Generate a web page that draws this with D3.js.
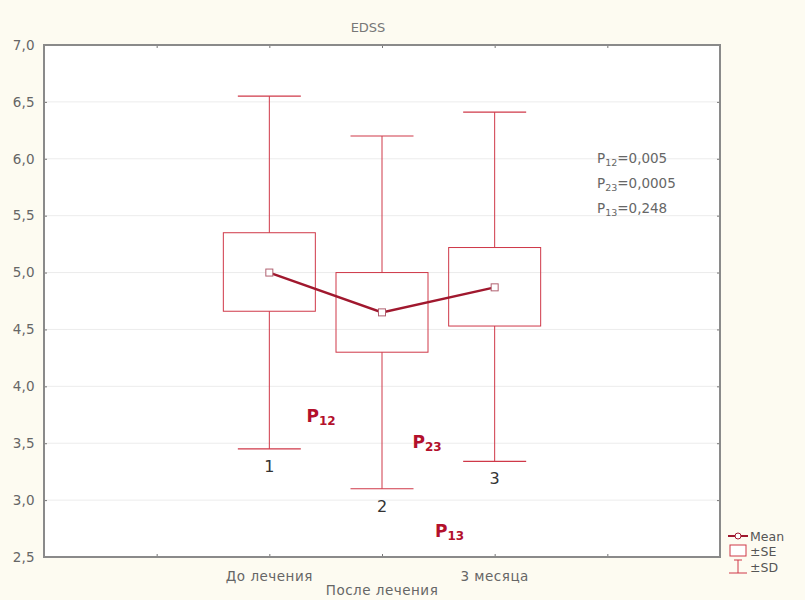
<!DOCTYPE html>
<html><head><meta charset="utf-8">
<script src="https://cdn.jsdelivr.net/npm/d3@7"></script>
<style>body{margin:0;background:#fdfbf1}svg{display:block}text{font-family:"DejaVu Sans","Liberation Sans",Arial,sans-serif}</style>
</head><body>
<script>
// ---- data ----
const title = "EDSS";
const groups = ["1", "2", "3"];
const xLabels = ["До лечения", "После лечения", "3 месяца"];
const means = [5.00, 4.65, 4.87];
const seLow = [4.66, 4.30, 4.53];
const seHigh = [5.35, 5.00, 5.22];
const sdLow = [3.45, 3.10, 3.34];
const sdHigh = [6.55, 6.20, 6.41];
const yTicks = [2.5, 3.0, 3.5, 4.0, 4.5, 5.0, 5.5, 6.0, 6.5, 7.0];
const pNames = ["12", "23", "13"];
const pValues = ["0,005", "0,0005", "0,248"];
const legendLabels = ["Mean", "±SE", "±SD"];

// ---- layout ----
const W = 805, H = 600;
const L = 44, R = 720, T = 45, B = 557;
const svg = d3.select("body").append("svg").attr("width", W).attr("height", H);
svg.append("rect").attr("width", W).attr("height", H).attr("fill", "#fdfbf1");
svg.append("rect").attr("x", L).attr("y", T).attr("width", R - L).attr("height", B - T).attr("fill", "#ffffff");

const x = d3.scaleLinear().domain([0, 6]).range([L, R]);
const xPos = i => x(i + 2);
const y = d3.scaleLinear().domain([2.5, 7.0]).range([B, T]);
const fmt = v => d3.format(".1f")(v).replace(".", ",");

// grid
svg.append("g").selectAll("line").data(yTicks.slice(1, -1)).join("line")
  .attr("x1", L).attr("x2", R).attr("y1", d => y(d)).attr("y2", d => y(d))
  .attr("stroke", "#ececec").attr("stroke-width", 1);

// axes
const gy = svg.append("g").attr("transform", `translate(${L},0)`)
  .call(d3.axisLeft(y).tickValues(yTicks).tickFormat(fmt).tickSize(-3).tickPadding(9));
const gyr = svg.append("g").attr("transform", `translate(${R},0)`)
  .call(d3.axisRight(y).tickValues(yTicks).tickFormat("").tickSize(-3));
const xt = [1, 2, 3, 4, 5];
const gx = svg.append("g").attr("transform", `translate(0,${B})`)
  .call(d3.axisBottom(x).tickValues(xt).tickFormat("").tickSize(-3));
const gxt = svg.append("g").attr("transform", `translate(0,${T})`)
  .call(d3.axisTop(x).tickValues(xt).tickFormat("").tickSize(-3));
[gy, gyr, gx, gxt].forEach(g => {
  g.select(".domain").remove();
  g.selectAll(".tick line").attr("stroke", "#777");
});
gy.selectAll("text").attr("fill", "#666").attr("font-size", 13.5).attr("font-family", "DejaVu Sans")
  .attr("letter-spacing", "0.3");
svg.append("rect").attr("x", L).attr("y", T).attr("width", R - L).attr("height", B - T)
  .attr("fill", "none").attr("stroke", "#8a8a8a").attr("stroke-width", 2);

// x labels
svg.append("g").selectAll("text").data(xLabels).join("text")
  .attr("x", (d, i) => xPos(i)).attr("y", (d, i) => i === 1 ? B + 38 : B + 24)
  .attr("text-anchor", "middle").attr("font-size", 13.5).attr("letter-spacing", "0.5")
  .attr("fill", "#666").text(d => d);

// title
svg.append("text").attr("x", 368).attr("y", 32).attr("text-anchor", "middle")
  .attr("font-size", 13).attr("fill", "#777").text(title);

const boxColor = "#cf3848", lineColor = "#a0182e";
const capW = 63, boxW = 92;
const g = svg.append("g");
groups.forEach((gname, i) => {
  const cx = xPos(i);
  g.append("line").attr("x1", cx).attr("x2", cx).attr("y1", y(sdHigh[i])).attr("y2", y(seHigh[i]))
    .attr("stroke", boxColor).attr("stroke-width", 1);
  g.append("line").attr("x1", cx).attr("x2", cx).attr("y1", y(seLow[i])).attr("y2", y(sdLow[i]))
    .attr("stroke", boxColor).attr("stroke-width", 1);
  [sdHigh[i], sdLow[i]].forEach(v => g.append("line")
    .attr("x1", cx - capW / 2).attr("x2", cx + capW / 2).attr("y1", y(v)).attr("y2", y(v))
    .attr("stroke", boxColor).attr("stroke-width", 1.2));
  g.append("rect").attr("x", cx - boxW / 2).attr("width", boxW)
    .attr("y", y(seHigh[i])).attr("height", y(seLow[i]) - y(seHigh[i]))
    .attr("fill", "none").attr("stroke", boxColor).attr("stroke-width", 1);
  g.append("text").attr("x", cx).attr("y", y(sdLow[i]) + 23).attr("text-anchor", "middle")
    .attr("font-size", 16).attr("font-family", "Liberation Sans").attr("fill", "#333").text(gname);
});
// mean line
g.append("path").datum(means)
  .attr("d", d3.line().x((d, i) => xPos(i)).y(d => y(d)))
  .attr("fill", "none").attr("stroke", lineColor).attr("stroke-width", 2.5);
g.selectAll(".m").data(means).join("rect")
  .attr("x", (d, i) => xPos(i) - 3.5).attr("y", d => y(d) - 3.5).attr("width", 7).attr("height", 7)
  .attr("fill", "#fff").attr("stroke", "#b06070").attr("stroke-width", 1);

// bold P labels (positions in data space)
const pPos = [[2.33, 3.69], [3.27, 3.46], [3.47, 2.68]];
pNames.forEach((n, i) => {
  const t = svg.append("text").attr("x", x(pPos[i][0])).attr("y", y(pPos[i][1]))
    .attr("fill", "#b3102c").attr("font-weight", "bold").attr("font-size", 17)
    .attr("font-family", "Liberation Sans");
  t.append("tspan").text("P");
  t.append("tspan").attr("font-size", 12).attr("dy", 3).text(n);
});

// p-value text
pNames.forEach((n, i) => {
  const t = svg.append("text").attr("x", 597).attr("y", 163 + i * 25)
    .attr("fill", "#666").attr("font-size", 13.5).attr("letter-spacing", "0");
  t.append("tspan").text("P");
  t.append("tspan").attr("font-size", 9.5).attr("dy", 3).text(n);
  t.append("tspan").attr("dy", -3).text("=" + pValues[i]);
});

// legend
const lx = 738, ly = [536, 551, 567];
const lg = svg.append("g");
lg.append("line").attr("x1", lx - 10).attr("x2", lx + 10).attr("y1", ly[0]).attr("y2", ly[0])
  .attr("stroke", lineColor).attr("stroke-width", 2);
lg.append("circle").attr("cx", lx).attr("cy", ly[0]).attr("r", 3).attr("fill", "#fff").attr("stroke", lineColor);
lg.append("rect").attr("x", lx - 8).attr("y", ly[1] - 6).attr("width", 16).attr("height", 11)
  .attr("fill", "#fff").attr("stroke", boxColor);
lg.append("line").attr("x1", lx - 4).attr("x2", lx + 4).attr("y1", ly[2] - 7).attr("y2", ly[2] - 7).attr("stroke", boxColor);
lg.append("line").attr("x1", lx).attr("x2", lx).attr("y1", ly[2] - 7).attr("y2", ly[2] + 6).attr("stroke", boxColor);
lg.append("line").attr("x1", lx - 9).attr("x2", lx + 9).attr("y1", ly[2] + 6).attr("y2", ly[2] + 6).attr("stroke", boxColor);
lg.selectAll("text").data(legendLabels).join("text")
  .attr("x", lx + 12).attr("y", (d, i) => ly[i] + 4.5).attr("font-size", 12.5).attr("fill", "#555")
  .text(d => d);
</script>
</body></html>
